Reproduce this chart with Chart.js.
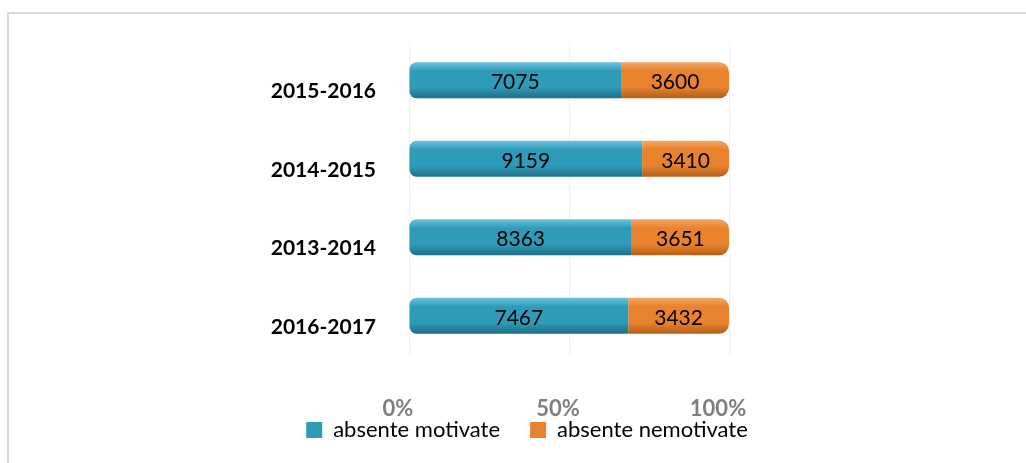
<!DOCTYPE html>
<html>
<head>
<meta charset="utf-8">
<script src="https://cdn.jsdelivr.net/npm/chart.js@4"></script>
<style>
  html, body { margin: 0; padding: 0; background: #fff; overflow: hidden; }
  #frame { position: absolute; left: 7px; top: 12px; width: 1030px; height: 460px;
           border-top: 2px solid #d9d9d9; border-left: 2px solid #d9d9d9; }
  #wrap { position: absolute; left: 0; top: 0; width: 1026px; height: 463px; }
</style>
</head>
<body>
<div id="frame"></div>
<div id="wrap"><canvas id="myChart" width="1026" height="463"></canvas></div>
<script>
let Years = ["2015-2016", "2014-2015", "2013-2014", "2016-2017"]
let Motivate = [7075, 9159, 8363, 7467]
let Nemotivate = [3600, 3410, 3651, 3432]
let XTicks = ["0%", "50%", "100%"]
let SeriesNames = ["absente motivate", "absente nemotivate"]
let SeriesColors = ["#2e9bb9", "#e8822c"]

// percent of each row
let MotivatePct = Motivate.map((v, i) => v / (v + Nemotivate[i]) * 100)
let NemotivatePct = Nemotivate.map((v, i) => v / (Motivate[i] + v) * 100)

function cylinder(light, mid, dark) {
	return function (c) {
		let chart = c.chart
		let y = chart.scales.y
		if (!y || c.dataIndex === undefined) return mid
		let cy = y.getPixelForValue(c.dataIndex)
		if (!isFinite(cy)) return mid
		let g = chart.ctx.createLinearGradient(0, cy - 18, 0, cy + 18)
		g.addColorStop(0, light)
		g.addColorStop(0.25, mid)
		g.addColorStop(0.7, mid)
		g.addColorStop(1, dark)
		return g
	}
}

// values written inside the bars
let valueLabels = {
	id: 'valueLabels',
	afterDatasetsDraw(chart) {
		let ctx = chart.ctx
		ctx.save()
		ctx.font = '21px Lato'
		ctx.fillStyle = '#000'
		ctx.textAlign = 'center'
		ctx.textBaseline = 'middle'
		let raw = [Motivate, Nemotivate]
		chart.data.datasets.forEach((ds, d) => {
			chart.getDatasetMeta(d).data.forEach((bar, i) => {
				let p = bar.getProps(['x', 'y', 'base'], true)
				ctx.fillText(raw[d][i], (p.x + p.base) / 2, p.y + 2)
			})
		})
		ctx.restore()
	}
}

// x labels sit lower than the axis box, so let them draw past it
let looseXAxis = {
	id: 'looseXAxis',
	afterLayout(chart) {
		chart.scales.x.bottom = chart.height
	}
}

let ctx1 = document.getElementById("myChart").getContext('2d')
var myChart = new Chart(ctx1, {
	type: 'bar',
	data: {
		labels: Years,
		datasets: [{
			label: SeriesNames[0],
			data: MotivatePct,
			backgroundColor: cylinder('#6cc3dc', SeriesColors[0], '#1e6e86'),
			borderWidth: 0,
			borderRadius: { topLeft: 7, bottomLeft: 7 },
			borderSkipped: false
		}, {
			label: SeriesNames[1],
			data: NemotivatePct,
			backgroundColor: cylinder('#f3a766', SeriesColors[1], '#b45f17'),
			borderWidth: 0,
			borderRadius: { topRight: 10, bottomRight: 10 },
			borderSkipped: false
		}]
	},
	options: {
		indexAxis: 'y',
		responsive: false,
		animation: false,
		layout: { padding: { top: 41, left: 28, right: 0, bottom: 12 } },
		datasets: { bar: { barPercentage: 0.46, categoryPercentage: 1 } },
		scales: {
			x: {
				stacked: true,
				min: 0,
				max: 100,
				afterBuildTicks: s => { s.ticks = [0, 50, 100].map(v => ({ value: v })) },
				afterFit: s => { s.height = 34 },
				grid: { color: '#efefef', drawTicks: false },
				border: { display: false },
				ticks: {
					callback: (v, i) => XTicks[i],
					color: '#7f7f7f',
					font: { family: 'Lato', size: 22, weight: 'bold' },
					padding: 41,
					labelOffset: -11
				}
			},
			y: {
				stacked: true,
				afterFit: s => { s.width = 381 },
				grid: { display: false },
				border: { display: false },
				ticks: {
					color: '#000',
					font: { family: 'Lato', size: 21, weight: 'bold' },
					padding: 25,
					labelOffset: 11
				}
			},
			r2: {
				position: 'right',
				type: 'linear',
				display: true,
				afterFit: s => { s.width = 297 },
				grid: { display: false },
				border: { display: false },
				ticks: { display: false }
			}
		},
		plugins: {
			legend: {
				position: 'bottom',
				labels: {
					color: '#000',
					font: { family: 'Lato', size: 22 },
					boxWidth: 16,
					boxHeight: 16,
					padding: 30,
					generateLabels: chart => chart.data.datasets.map((ds, i) => ({
						text: SeriesNames[i],
						fillStyle: SeriesColors[i],
						strokeStyle: SeriesColors[i],
						lineWidth: 0,
						datasetIndex: i
					}))
				}
			},
			tooltip: { enabled: false }
		}
	},
	plugins: [valueLabels, looseXAxis]
})
</script>
</body>
</html>
